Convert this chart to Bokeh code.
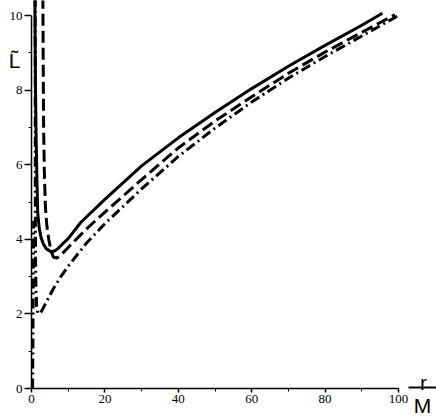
from bokeh.plotting import figure
from bokeh.models import Range1d, FixedTicker, Label, Arrow, LinearAxis
from bokeh.embed import file_html
from bokeh.resources import INLINE

# --- data (r/M, L~) ---
solid_r = [0.92, 1.0, 1.1, 1.25, 1.45, 1.7, 2.1, 2.6, 3.2, 4.0, 5.4, 6.5, 7.2, 8.5, 10, 13.4, 20, 30, 40, 50, 60, 70, 80, 90, 95.6]
solid_L = [10.5, 9.2, 8.0, 6.8, 5.7, 4.7, 4.3, 4.05, 3.88, 3.75, 3.66, 3.7, 3.75, 3.88, 4.02, 4.45, 5.07, 5.97, 6.72, 7.4, 8.04, 8.64, 9.2, 9.74, 10.06]

dashed_r = [3.1, 3.2, 3.3, 3.5, 3.8, 4.2, 4.7, 5.3, 6.0, 7.0, 8.0, 10, 15, 20, 30, 40, 50, 60, 70, 80, 90, 99]
dashed_L = [10.5, 8.5, 7.0, 5.8, 4.85, 4.35, 4.0, 3.7, 3.52, 3.5, 3.58, 3.78, 4.28, 4.73, 5.6, 6.45, 7.17, 7.82, 8.45, 9.02, 9.55, 10.02]

dashdot_r = [1.01, 1.02, 1.05, 1.1, 1.2, 1.4, 1.7, 2.0, 2.5, 3, 4, 5, 6, 8, 10, 15, 20, 30, 40, 50, 60, 70, 80, 90, 100]
dashdot_L = [10.5, 7.2, 4.7, 3.5, 2.7, 2.2, 2.03, 2.0, 2.04, 2.12, 2.31, 2.5, 2.68, 3.0, 3.28, 3.9, 4.42, 5.35, 6.22, 6.98, 7.68, 8.32, 8.9, 9.45, 10.0]

inner_r = [0.3, 0.4, 0.5, 0.6]
inner_L = [0.0, 1.5, 3.0, 4.5]

x_ticks = [0, 20, 40, 60, 80, 100]
x_minor = [10, 30, 50, 70, 90]
y_ticks = [0, 2, 4, 6, 8, 10]
y_minor = [1, 3, 5, 7, 9]

W, H = 436, 417
x0_px, x100_px = 31, 398
y0_px, y10_px = 388, 15
sx = (x100_px - x0_px) / 100.0
sy = (y0_px - y10_px) / 10.0

p = figure(width=W, height=H, output_backend="svg", toolbar_location=None,
           x_range=Range1d(-x0_px / sx, (W - x0_px) / sx),
           y_range=Range1d(-(H - y0_px) / sy, y0_px / sy),
           x_axis_location=None, y_axis_location=None,
           min_border=0)
p.outline_line_color = None
p.grid.visible = False
p.background_fill_color = "white"
p.border_fill_color = "white"

p.line(solid_r, solid_L, line_color="black", line_width=3)
p.line(dashed_r, dashed_L, line_color="black", line_width=3, line_dash="12 5")
p.line(dashdot_r, dashdot_L, line_color="black", line_width=3, line_dash="10 4 2 4")
p.line(inner_r, inner_L, line_color="black", line_width=3, line_dash="10 4 2 4")

xaxis = LinearAxis(fixed_location=0, bounds=(0, 100),
                   ticker=FixedTicker(ticks=x_ticks, minor_ticks=x_minor))
yaxis = LinearAxis(fixed_location=0, bounds=(0, 10),
                   ticker=FixedTicker(ticks=y_ticks, minor_ticks=y_minor))
for ax in (xaxis, yaxis):
    ax.axis_line_color = "black"
    ax.axis_line_width = 1.5
    ax.major_tick_line_color = "black"
    ax.minor_tick_line_color = "black"
    ax.major_tick_line_width = 1.5
    ax.minor_tick_line_width = 1
    ax.major_tick_in = 0
    ax.minor_tick_in = 0
    ax.major_label_text_font = "Liberation Serif"
    ax.major_label_text_font_size = "13px"
    ax.major_label_text_color = "black"
    ax.major_label_text_font_style = "normal"
xaxis.major_tick_out = 4
xaxis.minor_tick_out = 3
xaxis.major_label_standoff = 2
yaxis.major_tick_out = 7
yaxis.minor_tick_out = 3
yaxis.major_label_standoff = 2
p.add_layout(xaxis, "below")
p.add_layout(yaxis, "left")

p.add_layout(Label(x=(14 - x0_px) / sx, y=(y0_px - 60) / sy, text="L\u0303",
                   text_font="Liberation Sans", text_font_size="21px",
                   text_color="black", text_align="center", text_baseline="alphabetic"))
p.add_layout(Label(x=(423 - x0_px) / sx, y=(y0_px - 382) / sy, text="r",
                   text_font="Liberation Sans", text_font_size="21px",
                   text_color="black", text_align="center", text_baseline="alphabetic"))
p.add_layout(Label(x=(422 - x0_px) / sx, y=(y0_px - 405) / sy, text="M",
                   text_font="Liberation Sans", text_font_size="21px",
                   text_color="black", text_align="center", text_baseline="alphabetic"))
p.add_layout(Arrow(x_start=(408 - x0_px) / sx, y_start=(y0_px - 387) / sy,
                   x_end=(436 - x0_px) / sx, y_end=(y0_px - 387) / sy, end=None,
                   line_color="black", line_width=2))

open("out.html", "w").write(file_html(p, INLINE))
